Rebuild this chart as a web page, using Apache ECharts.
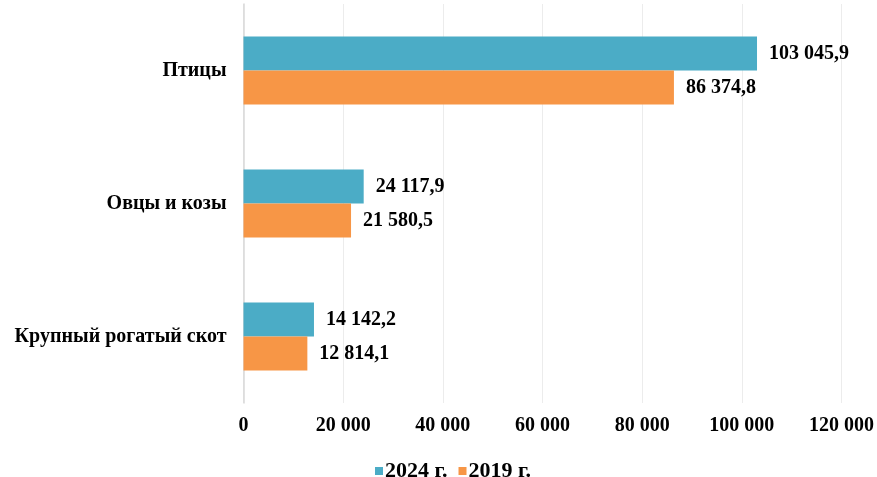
<!DOCTYPE html>
<html><head><meta charset="utf-8">
<script src="https://cdn.jsdelivr.net/npm/echarts@6/dist/echarts.min.js"></script>
<style>html,body{margin:0;padding:0;background:#fff}#c{width:877px;height:477px}</style>
</head><body><div id="c"></div>
<script>
var categories = ['Крупный рогатый скот', 'Овцы и козы', 'Птицы'];
var values2024 = [14142.2, 24117.9, 103045.9];
var values2019 = [12814.1, 21580.5, 86374.8];
var seriesNames = ['2024 г.', '2019 г.'];
var xTicks = [0, 20000, 40000, 60000, 80000, 100000, 120000];

var FONT = '"Liberation Serif", "Times New Roman", serif';
function fmtInt(v){ return String(Math.round(v)).replace(/\B(?=(\d{3})+(?!\d))/g, ' '); }
function fmtVal(v){
  var s = v.toFixed(1).split('.');
  return s[0].replace(/\B(?=(\d{3})+(?!\d))/g, ' ') + ',' + s[1];
}
var labelStyle = {show:true, position:'right', distance:12, color:'#000', fontFamily:FONT, fontWeight:'bold', fontSize:20,
  formatter:function(p){return fmtVal(p.value);}};

var chart = echarts.init(document.getElementById('c'));
chart.setOption({
  animation:false,
  grid:{left:243.5, right:33.5, top:4, bottom:74, containLabel:false},
  legend:{
    data:[seriesNames[0], seriesNames[1]],
    top:455, left:370, icon:'rect', itemWidth:8, itemHeight:8, itemGap:11,
    textStyle:{color:'#000', fontFamily:FONT, fontWeight:'bold', fontSize:22, padding:[0,0,0,-3]}
  },
  xAxis:{
    type:'value', min:xTicks[0], max:xTicks[xTicks.length-1], interval:20000,
    axisLine:{show:false}, axisTick:{show:false},
    splitLine:{lineStyle:{color:'#ececec', width:1}},
    axisLabel:{margin:13, color:'#000', fontFamily:FONT, fontWeight:'bold', fontSize:20, formatter:fmtInt}
  },
  yAxis:{
    type:'category', data:categories,
    axisLine:{show:true, lineStyle:{color:'#d9d9d9', width:1.5}}, axisTick:{show:false},
    axisLabel:{margin:17, color:'#000', fontFamily:FONT, fontWeight:'bold', fontSize:20}
  },
  series:[
    {name:seriesNames[0], type:'bar', data:values2024, barCategoryGap:'49%', barGap:'0%', label:labelStyle, itemStyle:{color:'#4BACC6'}},
    {name:seriesNames[1], type:'bar', data:values2019, barCategoryGap:'49%', barGap:'0%', label:labelStyle, itemStyle:{color:'#F79646'}}
  ]
});
</script></body></html>
